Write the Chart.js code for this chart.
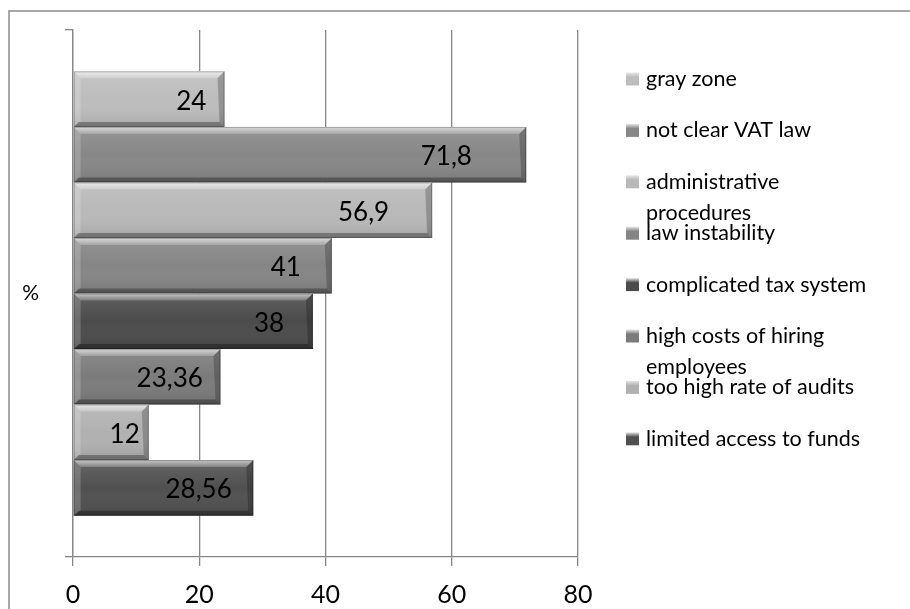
<!DOCTYPE html>
<html>
<head>
<meta charset="utf-8">
<script src="https://cdn.jsdelivr.net/npm/chart.js@4"></script>
<style>
  html, body { margin: 0; padding: 0; background: #fff; }
  #wrap { width: 910px; height: 609px; }
</style>
</head>
<body>
<div id="wrap"><canvas id="graph" width="910" height="609"></canvas></div>
<script>
// data
const categories = ['%'];
const seriesNames = [
  'gray zone',
  'not clear VAT law',
  'administrative procedures',
  'law instability',
  'complicated tax system',
  'high costs of hiring employees',
  'too high rate of audits',
  'limited access to funds'
];
const seriesValues = [24, 71.8, 56.9, 41, 38, 23.36, 12, 28.56];
const valueLabels = ['24', '71,8', '56,9', '41', '38', '23,36', '12', '28,56'];
const seriesColors = ['#bdbdbd', '#878787', '#b9b9b9', '#858585', '#4b4b4b', '#7b7b7b', '#b1b1b1', '#505050'];
const xTicks = [0, 20, 40, 60, 80];

const FONT = 'Lato, "Liberation Sans", sans-serif';
const axisGray = '#878787';

// outer frame (only left and top visible in the picture)
const framePlugin = {
  id: 'frame',
  beforeDraw(chart) {
    const ctx = chart.ctx;
    ctx.save();
    ctx.strokeStyle = '#8c8c8c';
    ctx.lineWidth = 1.5;
    ctx.strokeRect(9, 11, 1000, 1000);
    ctx.restore();
  }
};

// bevelled look of the bars + value labels
const bevelPlugin = {
  id: 'bevel',
  afterDatasetsDraw(chart) {
    const ctx = chart.ctx;
    chart.data.datasets.forEach((ds, i) => {
      const bar = chart.getDatasetMeta(i).data[0];
      const L = bar.base, R = bar.x;
      const T = bar.y - bar.height / 2, B = bar.y + bar.height / 2;
      const b = 7;
      ctx.save();
      // soft body shading
      let g = ctx.createLinearGradient(0, T, 0, B);
      g.addColorStop(0, 'rgba(255,255,255,0.12)');
      g.addColorStop(0.5, 'rgba(255,255,255,0)');
      g.addColorStop(1, 'rgba(0,0,0,0.12)');
      ctx.fillStyle = g;
      ctx.fillRect(L, T, R - L, B - T);
      // top
      g = ctx.createLinearGradient(0, T, 0, T + b);
      g.addColorStop(0, 'rgba(255,255,255,0.65)');
      g.addColorStop(1, 'rgba(255,255,255,0.2)');
      ctx.fillStyle = g;
      ctx.beginPath();
      ctx.moveTo(L, T); ctx.lineTo(R, T); ctx.lineTo(R - b, T + b); ctx.lineTo(L + b, T + b);
      ctx.closePath(); ctx.fill();
      // left
      ctx.fillStyle = 'rgba(255,255,255,0.18)';
      ctx.beginPath();
      ctx.moveTo(L, T); ctx.lineTo(L + b, T + b); ctx.lineTo(L + b, B - 5); ctx.lineTo(L, B);
      ctx.closePath(); ctx.fill();
      // right
      ctx.fillStyle = 'rgba(0,0,0,0.22)';
      ctx.beginPath();
      ctx.moveTo(R, T); ctx.lineTo(R, B); ctx.lineTo(R - 5, B - 5); ctx.lineTo(R - b, T + b);
      ctx.closePath(); ctx.fill();
      // bottom
      ctx.fillStyle = 'rgba(0,0,0,0.3)';
      ctx.beginPath();
      ctx.moveTo(L, B); ctx.lineTo(R, B); ctx.lineTo(R - 5, B - 5); ctx.lineTo(L + 5, B - 5);
      ctx.closePath(); ctx.fill();
      // thin edge
      ctx.strokeStyle = 'rgba(0,0,0,0.25)';
      ctx.lineWidth = 1;
      ctx.strokeRect(L + 0.5, T + 0.5, R - L - 1, B - T - 1);
      // value label inside the bar
      ctx.fillStyle = '#000';
      ctx.font = '26px ' + FONT;
      ctx.textAlign = 'right';
      ctx.textBaseline = 'middle';
      ctx.fillText(valueLabels[i], L + (R - L) * 0.88, bar.y + 2);
      ctx.restore();
    });
  }
};

// legend at the right, long names wrapped on two lines
const legendPlugin = {
  id: 'sideLegend',
  afterDraw(chart) {
    const ctx = chart.ctx;
    const x0 = 626, y0 = 79, step = 51.4, maxW = 236;
    ctx.save();
    ctx.font = '21.5px ' + FONT;
    ctx.textBaseline = 'middle';
    ctx.textAlign = 'left';
    seriesNames.forEach((name, i) => {
      const y = y0 + i * step;
      // wrap words
      const words = name.split(' ');
      const lines = [];
      let cur = '';
      words.forEach(w => {
        const t = cur ? cur + ' ' + w : w;
        if (ctx.measureText(t).width > maxW && cur) { lines.push(cur); cur = w; } else { cur = t; }
      });
      lines.push(cur);
      // swatch
      const s = 13;
      const g = ctx.createLinearGradient(0, y - s / 2, 0, y + s / 2);
      g.addColorStop(0, '#e6e6e6');
      g.addColorStop(0.35, seriesColors[i]);
      g.addColorStop(1, seriesColors[i]);
      ctx.fillStyle = g;
      ctx.fillRect(x0, y - s / 2, s, s);
      ctx.fillStyle = '#000';
      lines.forEach((ln, k) => ctx.fillText(ln, x0 + 20, y + k * 31));
    });
    ctx.restore();
  }
};

const graph = document.getElementById('graph').getContext('2d');
const chart = new Chart(graph, {
  type: 'bar',
  data: {
    labels: categories,
    datasets: seriesNames.map((name, i) => ({
      label: name,
      data: [seriesValues[i]],
      backgroundColor: seriesColors[i],
      borderWidth: 0,
      categoryPercentage: 0.843,
      barPercentage: 1
    }))
  },
  options: {
    indexAxis: 'y',
    responsive: false,
    animation: false,
    layout: { padding: { left: 0, top: 30, right: 332, bottom: 0 } },
    plugins: {
      legend: { display: false },
      tooltip: { enabled: false }
    },
    scales: {
      x: {
        min: 0,
        max: 80,
        afterBuildTicks: scale => { scale.ticks = xTicks.map(v => ({ value: v })); },
        afterFit: scale => { scale.height = 52; scale.paddingLeft = 0; scale.paddingRight = 0; },
        grid: { color: axisGray, lineWidth: 1.3, tickLength: 9 },
        border: { color: axisGray, width: 1.3 },
        ticks: { color: '#000', font: { family: FONT, size: 25 }, padding: 14 }
      },
      y: {
        afterFit: scale => { scale.width = 73; scale.paddingTop = 0; scale.paddingBottom = 0; },
        grid: { color: axisGray, lineWidth: 1.3, drawOnChartArea: false, tickLength: 8, offset: true },
        border: { color: axisGray, width: 1.3 },
        ticks: { color: '#000', font: { family: FONT, size: 21 }, padding: 26 }
      }
    }
  },
  plugins: [framePlugin, bevelPlugin, legendPlugin]
});
</script>
</body>
</html>
